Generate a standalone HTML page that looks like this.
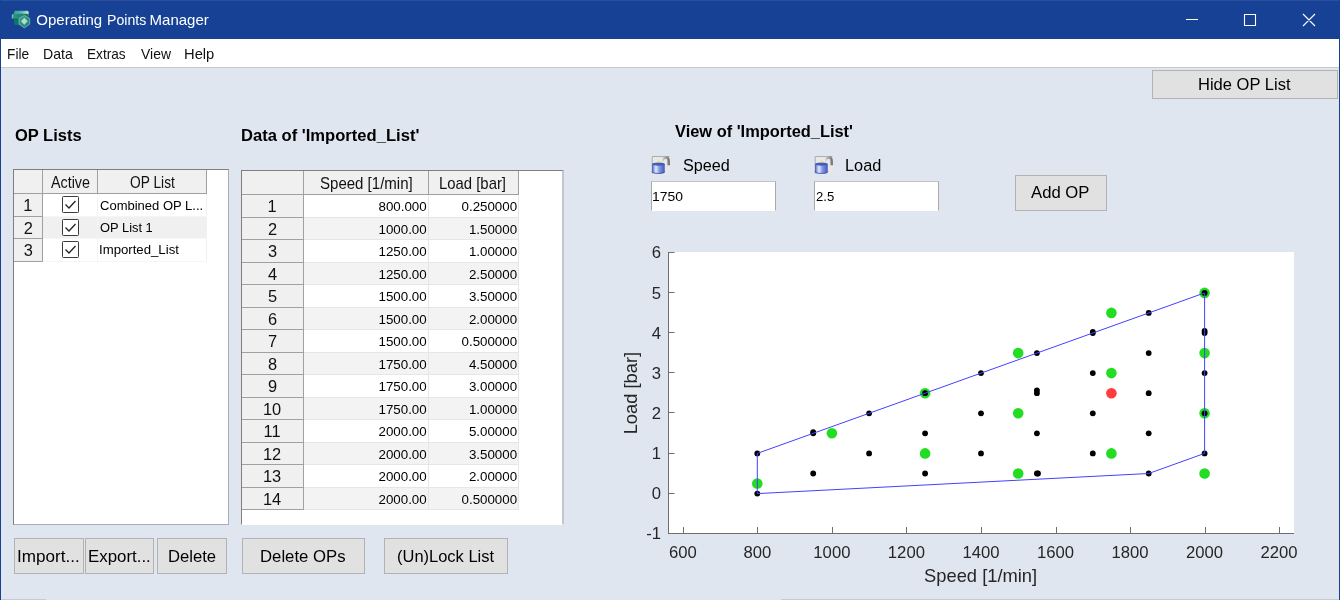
<!DOCTYPE html>
<html lang="en"><head><meta charset="utf-8"><title>Operating Points Manager</title>
<style>
*{box-sizing:border-box;margin:0;padding:0}
html,body{width:1340px;height:600px;overflow:hidden;background:#e0e6f0;font-family:"Liberation Sans",sans-serif}
.win{position:absolute;left:0;top:0;width:1340px;height:600px;background:#e0e6f0;overflow:hidden}
.win>*{position:absolute;left:0}
.edge{top:0;width:1px;height:600px;background:#164194}
.titlebar{top:0;width:1340px;height:39px;background:#164194;box-shadow:inset 0 1px 0 #2a51a0}
.title{font-weight:400;font-size:15px}
.appicon{position:absolute;left:8px;top:6px}
.winctl{position:absolute;left:1184px;top:10px}
.menubar{top:39px;width:1340px;height:29px;background:#fff;box-shadow:inset 0 -1px 0 #c9c9c9}
.menubar .t{margin-top:-39px}
main{top:0;width:1340px;height:600px}
.t{position:absolute;white-space:nowrap;display:block}
.btn{position:absolute;background:#e1e1e1;border:1px solid #b2b2b2}
.panel{position:absolute;background:#fff;border:1px solid #7f7f7f;border-right-color:#c3c9d3;border-bottom-color:#fff}
.r{position:absolute}
.cb,.lock{position:absolute}
.inp{position:absolute;background:#fff;border:1px solid #a9a9a9;border-top-color:#c4c4c4;border-bottom-color:#fff}
.chart{position:absolute;left:0;top:0}
.botl{position:absolute;top:599px;height:1px;background:#c6cbd3}
</style></head>
<body><div class="win">
<header class="titlebar">
<svg class="appicon" width="28" height="28" viewBox="0 0 28 28">
<defs><linearGradient id="g1" x1="0" y1="0" x2="1" y2="0"><stop offset="0" stop-color="#5fb8aa"/><stop offset="0.12" stop-color="#2a9383"/><stop offset="1" stop-color="#127465"/></linearGradient>
<linearGradient id="g2" x1="0" y1="0" x2="1" y2="0.3"><stop offset="0" stop-color="#2f9d8d"/><stop offset="0.6" stop-color="#63b9ab"/><stop offset="1" stop-color="#cfeae4"/></linearGradient>
<linearGradient id="g3" x1="0" y1="0" x2="1" y2="1"><stop offset="0" stop-color="#3a9e8e"/><stop offset="1" stop-color="#1f8373"/></linearGradient></defs>
<path d="M7 4.7h12.6l1 1v4h-14.5v-4z" fill="url(#g2)"/>
<path d="M4.3 8.6l1-.8h15.3v5.9h-14.4v-1.200h-1.9z" fill="url(#g1)"/>
<path d="M6.1 12.500h8v6.400h-7l-1-1z" fill="#0e7566"/>
<path d="M4.300 8.600v3.900" stroke="#9bd5ca" stroke-width=".7" fill="none"/>
<polygon points="16.300,9.500 21.700,12.400 21.700,18.200 16.300,21.900 11.100,18.200 11.100,12.400" fill="url(#g3)" stroke="#86c9bd" stroke-width=".7" stroke-linejoin="round"/>
<polygon points="16.300,11.700 19.600,15.200 16.300,18.700 13.000,15.200" fill="#d9f0eb" opacity=".78"/>
</svg>
<h1 class="title"><span class="t" style="left:36.30px;top:11px;font-size:15px;line-height:17px;color:#fff;">Operating</span> <span class="t" style="left:106.96px;top:11px;font-size:15px;line-height:17px;color:#fff;transform:scaleX(0.9405);transform-origin:0 50%;">Points</span> <span class="t" style="left:149.60px;top:11px;font-size:15px;line-height:17px;color:#fff;">Manager</span></h1>
<svg class="winctl" width="140" height="20" viewBox="0 0 140 20"><path d="M2 9.5h12M60.5 4.5h11v11h-11zM119 4l12 12M131 4l-12 12" fill="none" stroke="#fff" stroke-width="1.1"/></svg>
</header>
<nav class="menubar">
<span class="t" style="left:7.18px;top:45px;font-size:15px;line-height:17px;color:#111;transform:scaleX(0.9156);transform-origin:0 50%;">File</span>
<span class="t" style="left:43.46px;top:45px;font-size:15px;line-height:17px;color:#111;transform:scaleX(0.9380);transform-origin:0 50%;">Data</span>
<span class="t" style="left:87.19px;top:45px;font-size:15px;line-height:17px;color:#111;transform:scaleX(0.9095);transform-origin:0 50%;">Extras</span>
<span class="t" style="left:140.60px;top:45px;font-size:15px;line-height:17px;color:#111;transform:scaleX(0.9288);transform-origin:0 50%;">View</span>
<span class="t" style="left:184.02px;top:45px;font-size:15px;line-height:17px;color:#111;transform:scaleX(0.9828);transform-origin:0 50%;">Help</span>
</nav>
<main>
<div class="btn" style="left:1152px;top:70px;width:186px;height:29px"></div>
<div class="btn" style="left:14px;top:538px;width:70px;height:36px"></div>
<div class="btn" style="left:85px;top:538px;width:69px;height:36px"></div>
<div class="btn" style="left:157px;top:538px;width:70px;height:36px"></div>
<div class="btn" style="left:242px;top:538px;width:123px;height:36px"></div>
<div class="btn" style="left:384px;top:538px;width:124px;height:36px"></div>
<div class="btn" style="left:1015px;top:175px;width:92px;height:36px"></div>
<svg class="lock" style="left:651px;top:155px" width="20" height="20" viewBox="0 0 20 20">
<defs><linearGradient id="lb1" x1="0" y1="0" x2="1" y2="0"><stop offset="0" stop-color="#3b55b5"/><stop offset=".12" stop-color="#8396dd"/><stop offset=".3" stop-color="#e3e8fb"/><stop offset=".6" stop-color="#8094dd"/><stop offset="1" stop-color="#3f5ab9"/></linearGradient>
<linearGradient id="ls1" x1="0" y1="0" x2="1" y2="0"><stop offset="0" stop-color="#ececec"/><stop offset=".45" stop-color="#b0b0b0"/><stop offset="1" stop-color="#7a7a7a"/></linearGradient></defs>
<rect x=".75" y="1" width="18" height="17.750" fill="#e8e8e8"/>
<path d="M1.2 18.500V1.500H18.500" fill="none" stroke="#a6a6a6" stroke-width=".9"/>
<path d="M10.400 10C10.400 6 11.500 2.600 15 2.400C18.200 2.300 17.600 6 17.700 10.300" fill="none" stroke="url(#ls1)" stroke-width="2.6"/>
<path d="M1 9.300c0-2.200 12.750-2.200 12.750 0v7.700c0 2.300-12.750 2.300-12.750 0z" fill="url(#lb1)"/>
<path d="M1 16.700c0 2.300 12.750 2.300 12.750 0" fill="none" stroke="#2f48a8" stroke-width=".8"/>
<ellipse cx="7.400" cy="9.200" rx="6.300" ry="1.600" fill="#435dbd"/>
<circle cx="7.750" cy="6.600" r="1.150" fill="#eee24f"/>
</svg>
<svg class="lock" style="left:814px;top:155px" width="20" height="20" viewBox="0 0 20 20">
<defs><linearGradient id="lb2" x1="0" y1="0" x2="1" y2="0"><stop offset="0" stop-color="#3b55b5"/><stop offset=".12" stop-color="#8396dd"/><stop offset=".3" stop-color="#e3e8fb"/><stop offset=".6" stop-color="#8094dd"/><stop offset="1" stop-color="#3f5ab9"/></linearGradient>
<linearGradient id="ls2" x1="0" y1="0" x2="1" y2="0"><stop offset="0" stop-color="#ececec"/><stop offset=".45" stop-color="#b0b0b0"/><stop offset="1" stop-color="#7a7a7a"/></linearGradient></defs>
<rect x=".75" y="1" width="18" height="17.750" fill="#e8e8e8"/>
<path d="M1.2 18.500V1.500H18.500" fill="none" stroke="#a6a6a6" stroke-width=".9"/>
<path d="M10.400 10C10.400 6 11.500 2.600 15 2.400C18.200 2.300 17.600 6 17.700 10.300" fill="none" stroke="url(#ls2)" stroke-width="2.6"/>
<path d="M1 9.300c0-2.200 12.750-2.200 12.750 0v7.700c0 2.300-12.750 2.300-12.750 0z" fill="url(#lb2)"/>
<path d="M1 16.700c0 2.300 12.750 2.300 12.750 0" fill="none" stroke="#2f48a8" stroke-width=".8"/>
<ellipse cx="7.400" cy="9.200" rx="6.300" ry="1.600" fill="#435dbd"/>
<circle cx="7.750" cy="6.600" r="1.150" fill="#eee24f"/>
</svg>
<div class="inp" style="left:651px;top:181px;width:125px;height:30px"></div>
<div class="inp" style="left:814px;top:181px;width:125px;height:30px"></div>
<div class="panel" style="left:13px;top:169px;width:216px;height:356px;border-right-color:#a9afba;border-bottom-color:#a9afba">
</div>
<div class="r" style="left:14px;top:170px;width:193px;height:24px;background:#f0f0f0;"></div>
<div class="r" style="left:14px;top:193px;width:193px;height:1px;background:#a0a0a0;"></div>
<div class="r" style="left:42px;top:170px;width:1px;height:91px;background:#a0a0a0;"></div>
<div class="r" style="left:97px;top:170px;width:1px;height:23px;background:#a0a0a0;"></div>
<div class="r" style="left:206px;top:170px;width:1px;height:24px;background:#a0a0a0;"></div>
<div class="r" style="left:14px;top:194px;width:28px;height:22px;background:#f0f0f0;"></div>
<div class="r" style="left:14px;top:216px;width:29px;height:1px;background:#a0a0a0;"></div>
<div class="r" style="left:43px;top:194px;width:164px;height:23px;background:#fff;"></div>
<div class="r" style="left:43px;top:216px;width:164px;height:1px;background:#f5f5f5;"></div>
<div class="r" style="left:97px;top:194px;width:1px;height:22px;background:#f4f4f4;"></div>
<div class="r" style="left:206px;top:194px;width:1px;height:22px;background:#f0f0f0;"></div>
<svg class="cb" style="left:62px;top:196px" width="17" height="17" viewBox="0 0 17 17"><rect x=".5" y=".5" width="16" height="16" rx=".8" fill="#fff" stroke="#3c3c3c"/><path d="M3.5 8.5l3.5 3.5l6.5-7" fill="none" stroke="#222" stroke-width="1.3"/></svg>
<div class="r" style="left:14px;top:217px;width:28px;height:21px;background:#f0f0f0;"></div>
<div class="r" style="left:14px;top:238px;width:29px;height:1px;background:#a0a0a0;"></div>
<div class="r" style="left:43px;top:217px;width:164px;height:22px;background:#f0f0f0;"></div>
<div class="r" style="left:43px;top:238px;width:164px;height:1px;background:#f7f7f7;"></div>
<div class="r" style="left:97px;top:217px;width:1px;height:21px;background:#f4f4f4;"></div>
<div class="r" style="left:206px;top:217px;width:1px;height:21px;background:#f0f0f0;"></div>
<svg class="cb" style="left:62px;top:219px" width="17" height="17" viewBox="0 0 17 17"><rect x=".5" y=".5" width="16" height="16" rx=".8" fill="#fff" stroke="#3c3c3c"/><path d="M3.5 8.5l3.5 3.5l6.5-7" fill="none" stroke="#222" stroke-width="1.3"/></svg>
<div class="r" style="left:14px;top:239px;width:28px;height:22px;background:#f0f0f0;"></div>
<div class="r" style="left:14px;top:261px;width:29px;height:1px;background:#a0a0a0;"></div>
<div class="r" style="left:43px;top:239px;width:164px;height:23px;background:#fff;"></div>
<div class="r" style="left:43px;top:261px;width:164px;height:1px;background:#f5f5f5;"></div>
<div class="r" style="left:97px;top:239px;width:1px;height:22px;background:#f4f4f4;"></div>
<div class="r" style="left:206px;top:239px;width:1px;height:22px;background:#f0f0f0;"></div>
<svg class="cb" style="left:62px;top:241px" width="17" height="17" viewBox="0 0 17 17"><rect x=".5" y=".5" width="16" height="16" rx=".8" fill="#fff" stroke="#3c3c3c"/><path d="M3.5 8.5l3.5 3.5l6.5-7" fill="none" stroke="#222" stroke-width="1.3"/></svg>
<div class="panel" style="left:241px;top:170px;width:323px;height:355px;border-right:2px solid #c2c8d3"></div>
<div class="r" style="left:242px;top:171px;width:277px;height:24px;background:#f0f0f0;"></div>
<div class="r" style="left:242px;top:194px;width:277px;height:1px;background:#a0a0a0;"></div>
<div class="r" style="left:303px;top:171px;width:1px;height:339px;background:#a0a0a0;"></div>
<div class="r" style="left:428px;top:171px;width:1px;height:23px;background:#a0a0a0;"></div>
<div class="r" style="left:518px;top:171px;width:1px;height:24px;background:#a0a0a0;"></div>
<div class="r" style="left:242px;top:195px;width:61px;height:22px;background:#f0f0f0;"></div>
<div class="r" style="left:242px;top:217px;width:62px;height:1px;background:#a0a0a0;"></div>
<div class="r" style="left:304px;top:195px;width:215px;height:23px;background:#fff;"></div>
<div class="r" style="left:304px;top:217px;width:215px;height:1px;background:#e6e6e6;"></div>
<div class="r" style="left:428px;top:195px;width:1px;height:22px;background:#e6e6e6;"></div>
<div class="r" style="left:518px;top:195px;width:1px;height:22px;background:#e6e6e6;"></div>
<div class="r" style="left:242px;top:218px;width:61px;height:21px;background:#f0f0f0;"></div>
<div class="r" style="left:242px;top:239px;width:62px;height:1px;background:#a0a0a0;"></div>
<div class="r" style="left:304px;top:218px;width:215px;height:22px;background:#f3f3f3;"></div>
<div class="r" style="left:304px;top:239px;width:215px;height:1px;background:#e6e6e6;"></div>
<div class="r" style="left:428px;top:218px;width:1px;height:21px;background:#e6e6e6;"></div>
<div class="r" style="left:518px;top:218px;width:1px;height:21px;background:#e6e6e6;"></div>
<div class="r" style="left:242px;top:240px;width:61px;height:22px;background:#f0f0f0;"></div>
<div class="r" style="left:242px;top:262px;width:62px;height:1px;background:#a0a0a0;"></div>
<div class="r" style="left:304px;top:240px;width:215px;height:23px;background:#fff;"></div>
<div class="r" style="left:304px;top:262px;width:215px;height:1px;background:#e6e6e6;"></div>
<div class="r" style="left:428px;top:240px;width:1px;height:22px;background:#e6e6e6;"></div>
<div class="r" style="left:518px;top:240px;width:1px;height:22px;background:#e6e6e6;"></div>
<div class="r" style="left:242px;top:263px;width:61px;height:21px;background:#f0f0f0;"></div>
<div class="r" style="left:242px;top:284px;width:62px;height:1px;background:#a0a0a0;"></div>
<div class="r" style="left:304px;top:263px;width:215px;height:22px;background:#f3f3f3;"></div>
<div class="r" style="left:304px;top:284px;width:215px;height:1px;background:#e6e6e6;"></div>
<div class="r" style="left:428px;top:263px;width:1px;height:21px;background:#e6e6e6;"></div>
<div class="r" style="left:518px;top:263px;width:1px;height:21px;background:#e6e6e6;"></div>
<div class="r" style="left:242px;top:285px;width:61px;height:22px;background:#f0f0f0;"></div>
<div class="r" style="left:242px;top:307px;width:62px;height:1px;background:#a0a0a0;"></div>
<div class="r" style="left:304px;top:285px;width:215px;height:23px;background:#fff;"></div>
<div class="r" style="left:304px;top:307px;width:215px;height:1px;background:#e6e6e6;"></div>
<div class="r" style="left:428px;top:285px;width:1px;height:22px;background:#e6e6e6;"></div>
<div class="r" style="left:518px;top:285px;width:1px;height:22px;background:#e6e6e6;"></div>
<div class="r" style="left:242px;top:308px;width:61px;height:21px;background:#f0f0f0;"></div>
<div class="r" style="left:242px;top:329px;width:62px;height:1px;background:#a0a0a0;"></div>
<div class="r" style="left:304px;top:308px;width:215px;height:22px;background:#f3f3f3;"></div>
<div class="r" style="left:304px;top:329px;width:215px;height:1px;background:#e6e6e6;"></div>
<div class="r" style="left:428px;top:308px;width:1px;height:21px;background:#e6e6e6;"></div>
<div class="r" style="left:518px;top:308px;width:1px;height:21px;background:#e6e6e6;"></div>
<div class="r" style="left:242px;top:330px;width:61px;height:22px;background:#f0f0f0;"></div>
<div class="r" style="left:242px;top:352px;width:62px;height:1px;background:#a0a0a0;"></div>
<div class="r" style="left:304px;top:330px;width:215px;height:23px;background:#fff;"></div>
<div class="r" style="left:304px;top:352px;width:215px;height:1px;background:#e6e6e6;"></div>
<div class="r" style="left:428px;top:330px;width:1px;height:22px;background:#e6e6e6;"></div>
<div class="r" style="left:518px;top:330px;width:1px;height:22px;background:#e6e6e6;"></div>
<div class="r" style="left:242px;top:353px;width:61px;height:21px;background:#f0f0f0;"></div>
<div class="r" style="left:242px;top:374px;width:62px;height:1px;background:#a0a0a0;"></div>
<div class="r" style="left:304px;top:353px;width:215px;height:22px;background:#f3f3f3;"></div>
<div class="r" style="left:304px;top:374px;width:215px;height:1px;background:#e6e6e6;"></div>
<div class="r" style="left:428px;top:353px;width:1px;height:21px;background:#e6e6e6;"></div>
<div class="r" style="left:518px;top:353px;width:1px;height:21px;background:#e6e6e6;"></div>
<div class="r" style="left:242px;top:375px;width:61px;height:22px;background:#f0f0f0;"></div>
<div class="r" style="left:242px;top:397px;width:62px;height:1px;background:#a0a0a0;"></div>
<div class="r" style="left:304px;top:375px;width:215px;height:23px;background:#fff;"></div>
<div class="r" style="left:304px;top:397px;width:215px;height:1px;background:#e6e6e6;"></div>
<div class="r" style="left:428px;top:375px;width:1px;height:22px;background:#e6e6e6;"></div>
<div class="r" style="left:518px;top:375px;width:1px;height:22px;background:#e6e6e6;"></div>
<div class="r" style="left:242px;top:398px;width:61px;height:21px;background:#f0f0f0;"></div>
<div class="r" style="left:242px;top:419px;width:62px;height:1px;background:#a0a0a0;"></div>
<div class="r" style="left:304px;top:398px;width:215px;height:22px;background:#f3f3f3;"></div>
<div class="r" style="left:304px;top:419px;width:215px;height:1px;background:#e6e6e6;"></div>
<div class="r" style="left:428px;top:398px;width:1px;height:21px;background:#e6e6e6;"></div>
<div class="r" style="left:518px;top:398px;width:1px;height:21px;background:#e6e6e6;"></div>
<div class="r" style="left:242px;top:420px;width:61px;height:22px;background:#f0f0f0;"></div>
<div class="r" style="left:242px;top:442px;width:62px;height:1px;background:#a0a0a0;"></div>
<div class="r" style="left:304px;top:420px;width:215px;height:23px;background:#fff;"></div>
<div class="r" style="left:304px;top:442px;width:215px;height:1px;background:#e6e6e6;"></div>
<div class="r" style="left:428px;top:420px;width:1px;height:22px;background:#e6e6e6;"></div>
<div class="r" style="left:518px;top:420px;width:1px;height:22px;background:#e6e6e6;"></div>
<div class="r" style="left:242px;top:443px;width:61px;height:21px;background:#f0f0f0;"></div>
<div class="r" style="left:242px;top:464px;width:62px;height:1px;background:#a0a0a0;"></div>
<div class="r" style="left:304px;top:443px;width:215px;height:22px;background:#f3f3f3;"></div>
<div class="r" style="left:304px;top:464px;width:215px;height:1px;background:#e6e6e6;"></div>
<div class="r" style="left:428px;top:443px;width:1px;height:21px;background:#e6e6e6;"></div>
<div class="r" style="left:518px;top:443px;width:1px;height:21px;background:#e6e6e6;"></div>
<div class="r" style="left:242px;top:465px;width:61px;height:22px;background:#f0f0f0;"></div>
<div class="r" style="left:242px;top:487px;width:62px;height:1px;background:#a0a0a0;"></div>
<div class="r" style="left:304px;top:465px;width:215px;height:23px;background:#fff;"></div>
<div class="r" style="left:304px;top:487px;width:215px;height:1px;background:#e6e6e6;"></div>
<div class="r" style="left:428px;top:465px;width:1px;height:22px;background:#e6e6e6;"></div>
<div class="r" style="left:518px;top:465px;width:1px;height:22px;background:#e6e6e6;"></div>
<div class="r" style="left:242px;top:488px;width:61px;height:21px;background:#f0f0f0;"></div>
<div class="r" style="left:242px;top:509px;width:62px;height:1px;background:#a0a0a0;"></div>
<div class="r" style="left:304px;top:488px;width:215px;height:22px;background:#f3f3f3;"></div>
<div class="r" style="left:304px;top:509px;width:215px;height:1px;background:#e6e6e6;"></div>
<div class="r" style="left:428px;top:488px;width:1px;height:21px;background:#e6e6e6;"></div>
<div class="r" style="left:518px;top:488px;width:1px;height:21px;background:#e6e6e6;"></div>
<span class="t" style="left:1198.44px;top:74px;font-size:17.2px;line-height:20px;transform:scaleX(0.9624);transform-origin:0 50%;">Hide OP List</span>
<span class="t" style="left:17.31px;top:546px;font-size:17.2px;line-height:20px;transform:scaleX(0.9941);transform-origin:0 50%;">Import...</span>
<span class="t" style="left:88.02px;top:546px;font-size:17.2px;line-height:20px;transform:scaleX(0.9803);transform-origin:0 50%;">Export...</span>
<span class="t" style="left:167.93px;top:546px;font-size:17.2px;line-height:20px;transform:scaleX(0.9683);transform-origin:0 50%;">Delete</span>
<span class="t" style="left:260.33px;top:546px;font-size:17.2px;line-height:20px;transform:scaleX(0.9735);transform-origin:0 50%;">Delete OPs</span>
<span class="t" style="left:396.94px;top:546px;font-size:17.2px;line-height:20px;transform:scaleX(0.9585);transform-origin:0 50%;">(Un)Lock List</span>
<span class="t" style="left:1031.00px;top:182px;font-size:17.2px;line-height:20px;transform:scaleX(0.9711);transform-origin:0 50%;">Add OP</span>
<span class="t" style="left:14.70px;top:125px;font-size:17.2px;line-height:20px;font-weight:700;transform:scaleX(0.9586);transform-origin:0 50%;">OP Lists</span>
<span class="t" style="left:241.24px;top:125px;font-size:17.2px;line-height:20px;font-weight:700;transform:scaleX(0.9649);transform-origin:0 50%;">Data of 'Imported_List'</span>
<span class="t" style="left:674.60px;top:121px;font-size:17.2px;line-height:20px;font-weight:700;transform:scaleX(0.9546);transform-origin:0 50%;">View of 'Imported_List'</span>
<span class="t" style="left:682.50px;top:155px;font-size:17.2px;line-height:20px;transform:scaleX(0.9422);transform-origin:0 50%;">Speed</span>
<span class="t" style="left:844.95px;top:155px;font-size:17.2px;line-height:20px;transform:scaleX(0.9488);transform-origin:0 50%;">Load</span>
<span class="t" style="left:651.96px;top:189px;font-size:13.33px;line-height:15px;transform:scaleX(1.0447);transform-origin:0 50%;">1750</span>
<span class="t" style="left:816.20px;top:189px;font-size:13.33px;line-height:15px;transform:scaleX(0.9826);transform-origin:0 50%;">2.5</span>
<span class="t" style="left:23.20px;top:196px;font-size:16.4px;line-height:18px;color:#111;">1</span>
<span class="t" style="left:23.70px;top:219px;font-size:16.4px;line-height:18px;color:#111;">2</span>
<span class="t" style="left:23.70px;top:241px;font-size:16.4px;line-height:18px;color:#111;">3</span>
<span class="t" style="left:50.70px;top:173px;font-size:16.4px;line-height:18px;color:#111;transform:scaleX(0.8738);transform-origin:0 50%;">Active</span>
<span class="t" style="left:130.40px;top:173px;font-size:16.4px;line-height:18px;color:#111;transform:scaleX(0.8397);transform-origin:0 50%;">OP List</span>
<span class="t" style="left:99.70px;top:198px;font-size:13.33px;line-height:15px;transform:scaleX(0.9759);transform-origin:0 50%;">Combined OP L...</span>
<span class="t" style="left:99.60px;top:220px;font-size:13.33px;line-height:15px;transform:scaleX(0.9669);transform-origin:0 50%;">OP List 1</span>
<span class="t" style="left:98.61px;top:242px;font-size:13.33px;line-height:15px;transform:scaleX(0.9894);transform-origin:0 50%;">Imported_List</span>
<span class="t" style="left:267.50px;top:197px;font-size:16.4px;line-height:18px;color:#111;">1</span>
<span class="t" style="left:378.53px;top:199px;font-size:13.33px;line-height:15px;">800.000</span>
<span class="t" style="left:461.52px;top:199px;font-size:13.33px;line-height:15px;">0.250000</span>
<span class="t" style="left:268.00px;top:220px;font-size:16.4px;line-height:18px;color:#111;">2</span>
<span class="t" style="left:378.53px;top:222px;font-size:13.33px;line-height:15px;">1000.00</span>
<span class="t" style="left:468.93px;top:222px;font-size:13.33px;line-height:15px;">1.50000</span>
<span class="t" style="left:268.00px;top:242px;font-size:16.4px;line-height:18px;color:#111;">3</span>
<span class="t" style="left:378.53px;top:244px;font-size:13.33px;line-height:15px;">1250.00</span>
<span class="t" style="left:468.93px;top:244px;font-size:13.33px;line-height:15px;">1.00000</span>
<span class="t" style="left:268.00px;top:265px;font-size:16.4px;line-height:18px;color:#111;">4</span>
<span class="t" style="left:378.53px;top:267px;font-size:13.33px;line-height:15px;">1250.00</span>
<span class="t" style="left:468.93px;top:267px;font-size:13.33px;line-height:15px;">2.50000</span>
<span class="t" style="left:268.00px;top:287px;font-size:16.4px;line-height:18px;color:#111;">5</span>
<span class="t" style="left:378.53px;top:289px;font-size:13.33px;line-height:15px;">1500.00</span>
<span class="t" style="left:468.93px;top:289px;font-size:13.33px;line-height:15px;">3.50000</span>
<span class="t" style="left:268.00px;top:310px;font-size:16.4px;line-height:18px;color:#111;">6</span>
<span class="t" style="left:378.53px;top:312px;font-size:13.33px;line-height:15px;">1500.00</span>
<span class="t" style="left:468.93px;top:312px;font-size:13.33px;line-height:15px;">2.00000</span>
<span class="t" style="left:268.00px;top:332px;font-size:16.4px;line-height:18px;color:#111;">7</span>
<span class="t" style="left:378.53px;top:334px;font-size:13.33px;line-height:15px;">1500.00</span>
<span class="t" style="left:461.52px;top:334px;font-size:13.33px;line-height:15px;">0.500000</span>
<span class="t" style="left:268.00px;top:355px;font-size:16.4px;line-height:18px;color:#111;">8</span>
<span class="t" style="left:378.53px;top:357px;font-size:13.33px;line-height:15px;">1750.00</span>
<span class="t" style="left:468.93px;top:357px;font-size:13.33px;line-height:15px;">4.50000</span>
<span class="t" style="left:268.00px;top:377px;font-size:16.4px;line-height:18px;color:#111;">9</span>
<span class="t" style="left:378.53px;top:379px;font-size:13.33px;line-height:15px;">1750.00</span>
<span class="t" style="left:468.93px;top:379px;font-size:13.33px;line-height:15px;">3.00000</span>
<span class="t" style="left:262.94px;top:400px;font-size:16.4px;line-height:18px;color:#111;">10</span>
<span class="t" style="left:378.53px;top:402px;font-size:13.33px;line-height:15px;">1750.00</span>
<span class="t" style="left:468.93px;top:402px;font-size:13.33px;line-height:15px;">1.00000</span>
<span class="t" style="left:263.55px;top:422px;font-size:16.4px;line-height:18px;color:#111;">11</span>
<span class="t" style="left:378.53px;top:424px;font-size:13.33px;line-height:15px;">2000.00</span>
<span class="t" style="left:468.93px;top:424px;font-size:13.33px;line-height:15px;">5.00000</span>
<span class="t" style="left:262.94px;top:445px;font-size:16.4px;line-height:18px;color:#111;">12</span>
<span class="t" style="left:378.53px;top:447px;font-size:13.33px;line-height:15px;">2000.00</span>
<span class="t" style="left:468.93px;top:447px;font-size:13.33px;line-height:15px;">3.50000</span>
<span class="t" style="left:262.94px;top:467px;font-size:16.4px;line-height:18px;color:#111;">13</span>
<span class="t" style="left:378.53px;top:469px;font-size:13.33px;line-height:15px;">2000.00</span>
<span class="t" style="left:468.93px;top:469px;font-size:13.33px;line-height:15px;">2.00000</span>
<span class="t" style="left:262.94px;top:490px;font-size:16.4px;line-height:18px;color:#111;">14</span>
<span class="t" style="left:378.53px;top:492px;font-size:13.33px;line-height:15px;">2000.00</span>
<span class="t" style="left:461.52px;top:492px;font-size:13.33px;line-height:15px;">0.500000</span>
<span class="t" style="left:319.70px;top:174px;font-size:16.4px;line-height:18px;color:#111;transform:scaleX(0.9167);transform-origin:0 50%;">Speed [1/min]</span>
<span class="t" style="left:439.49px;top:174px;font-size:16.4px;line-height:18px;color:#111;transform:scaleX(0.9078);transform-origin:0 50%;">Load [bar]</span>
<svg class="chart" width="1340" height="600" viewBox="0 0 1340 600">
<rect x="668" y="252" width="626" height="282" fill="#fff"/>
<path d="M668.5 252V533.5H1294M683.5 533V527M757.5 533V527M832.5 533V527M906.5 533V527M981.5 533V527M1056.5 533V527M1130.5 533V527M1205.5 533V527M1279.5 533V527M668 533.5H674.5M668 493.5H674.5M668 453.5H674.5M668 412.5H674.5M668 372.5H674.5M668 332.5H674.5M668 292.5H674.5M668 252.5H674.5" fill="none" stroke="#6e6e6e" stroke-width="1"/>
<g font-family="Liberation Sans, sans-serif" font-size="16.67" fill="#262626">
<text x="682.8" y="557.5" text-anchor="middle">600</text>
<text x="757.3" y="557.5" text-anchor="middle">800</text>
<text x="831.9" y="557.5" text-anchor="middle">1000</text>
<text x="906.4" y="557.5" text-anchor="middle">1200</text>
<text x="981.0" y="557.5" text-anchor="middle">1400</text>
<text x="1055.5" y="557.5" text-anchor="middle">1600</text>
<text x="1130.0" y="557.5" text-anchor="middle">1800</text>
<text x="1204.6" y="557.5" text-anchor="middle">2000</text>
<text x="1279.1" y="557.5" text-anchor="middle">2200</text>
<text x="661.1" y="539.3" text-anchor="end">-1</text>
<text x="661.1" y="499.2" text-anchor="end">0</text>
<text x="661.1" y="459.0" text-anchor="end">1</text>
<text x="661.1" y="418.9" text-anchor="end">2</text>
<text x="661.1" y="378.7" text-anchor="end">3</text>
<text x="661.1" y="338.6" text-anchor="end">4</text>
<text x="661.1" y="298.5" text-anchor="end">5</text>
<text x="661.1" y="258.3" text-anchor="end">6</text>
</g>
<g font-family="Liberation Sans, sans-serif" font-size="18.33" fill="#262626">
<text x="980.6" y="581.8" text-anchor="middle">Speed [1/min]</text>
<text transform="translate(637.1 393.1) rotate(-90)" text-anchor="middle">Load [bar]</text>
</g>
<g fill="#22dd22">
<circle cx="757.3" cy="483.5" r="5.3"/>
<circle cx="831.9" cy="433.3" r="5.3"/>
<circle cx="925.1" cy="453.4" r="5.3"/>
<circle cx="925.1" cy="393.2" r="5.3"/>
<circle cx="1018.2" cy="353.1" r="5.3"/>
<circle cx="1018.2" cy="413.3" r="5.3"/>
<circle cx="1018.2" cy="473.5" r="5.3"/>
<circle cx="1111.4" cy="312.9" r="5.3"/>
<circle cx="1111.4" cy="373.1" r="5.3"/>
<circle cx="1111.4" cy="453.4" r="5.3"/>
<circle cx="1204.6" cy="292.9" r="5.3"/>
<circle cx="1204.6" cy="353.1" r="5.3"/>
<circle cx="1204.6" cy="413.3" r="5.3"/>
<circle cx="1204.6" cy="473.5" r="5.3"/>
</g>
<circle cx="1111.4" cy="393.2" r="5.3" fill="#ff3b3b"/>
<g fill="#000">
<circle cx="757.3" cy="453.4" r="2.9"/>
<circle cx="757.3" cy="493.6" r="2.9"/>
<circle cx="813.2" cy="433.3" r="2.9"/>
<circle cx="813.2" cy="432.1" r="2.9"/>
<circle cx="813.2" cy="473.5" r="2.9"/>
<circle cx="869.1" cy="413.3" r="2.9"/>
<circle cx="869.1" cy="453.4" r="2.9"/>
<circle cx="925.1" cy="393.2" r="2.9"/>
<circle cx="925.1" cy="433.3" r="2.9"/>
<circle cx="925.1" cy="473.5" r="2.9"/>
<circle cx="981.0" cy="373.1" r="2.9"/>
<circle cx="981.0" cy="413.3" r="2.9"/>
<circle cx="981.0" cy="453.4" r="2.9"/>
<circle cx="1036.9" cy="353.1" r="2.9"/>
<circle cx="1036.9" cy="393.2" r="2.9"/>
<circle cx="1036.9" cy="390.4" r="2.9"/>
<circle cx="1036.9" cy="433.3" r="2.9"/>
<circle cx="1036.9" cy="473.5" r="2.9"/>
<circle cx="1038.0" cy="473.5" r="2.9"/>
<circle cx="1092.8" cy="333.0" r="2.9"/>
<circle cx="1092.8" cy="331.8" r="2.9"/>
<circle cx="1092.8" cy="373.1" r="2.9"/>
<circle cx="1092.8" cy="413.3" r="2.9"/>
<circle cx="1092.8" cy="453.4" r="2.9"/>
<circle cx="1148.7" cy="312.9" r="2.9"/>
<circle cx="1148.7" cy="353.1" r="2.9"/>
<circle cx="1148.7" cy="393.2" r="2.9"/>
<circle cx="1148.7" cy="433.3" r="2.9"/>
<circle cx="1148.7" cy="473.5" r="2.9"/>
<circle cx="1204.6" cy="292.9" r="2.9"/>
<circle cx="1204.6" cy="333.0" r="2.9"/>
<circle cx="1204.6" cy="331.0" r="2.9"/>
<circle cx="1204.6" cy="373.1" r="2.9"/>
<circle cx="1204.6" cy="413.3" r="2.9"/>
<circle cx="1204.6" cy="453.4" r="2.9"/>
</g>
<polygon points="757.3,493.6 757.3,453.4 1204.6,292.9 1204.6,453.4 1148.7,473.5" fill="none" stroke="#4242ff" stroke-width="1"/>
</svg>
<div class="botl" style="left:1px;width:45px"></div><div class="botl" style="left:781px;width:558px"></div>
</main>
<div class="edge" style="left:0"></div><div class="edge" style="left:1339px"></div>
</div></body></html>
